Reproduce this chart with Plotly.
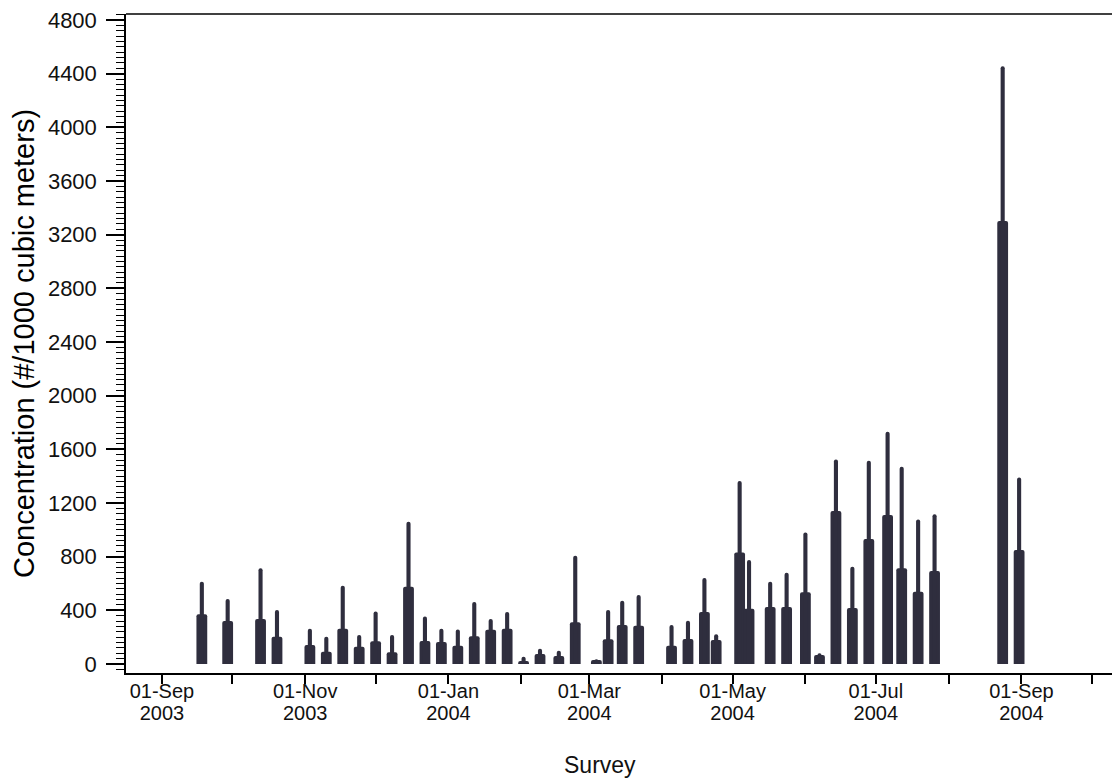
import plotly.graph_objects as go

# Survey dates (weekly plankton surveys)
survey_dates = [
    "2003-09-18", "2003-09-29", "2003-10-13", "2003-10-20", "2003-11-03",
    "2003-11-10", "2003-11-17", "2003-11-24", "2003-12-01", "2003-12-08",
    "2003-12-15", "2003-12-22", "2003-12-29", "2004-01-05", "2004-01-12",
    "2004-01-19", "2004-01-26", "2004-02-02", "2004-02-09", "2004-02-17",
    "2004-02-24", "2004-03-04", "2004-03-09", "2004-03-15", "2004-03-22",
    "2004-04-05", "2004-04-12", "2004-04-19", "2004-04-24", "2004-05-04",
    "2004-05-08", "2004-05-17", "2004-05-24", "2004-06-01", "2004-06-07",
    "2004-06-14", "2004-06-21", "2004-06-28", "2004-07-06", "2004-07-12",
    "2004-07-19", "2004-07-26", "2004-08-24", "2004-08-31",
]

# Mean concentration (#/1000 m^3) - thick bar
mean_conc = [
    370, 320, 335, 204, 142,
    92, 263, 129, 170, 87,
    576, 171, 164, 137, 206,
    256, 263, 22, 75, 60,
    311, 30, 184, 290, 286,
    137, 186, 387, 179, 831,
    412, 425, 425, 534, 67,
    1140, 417, 932, 1110, 713,
    539, 693, 3303, 850,
]

# Upper value (mean + error) - thin line
upper_conc = [
    613, 484, 713, 402, 263,
    204, 584, 216, 391, 216,
    1060, 355, 263, 258, 462,
    335, 388, 55, 114, 99,
    807, 35, 402, 472, 514,
    291, 323, 641, 221, 1364,
    775, 614, 681, 981, 80,
    1525, 725, 1515, 1731, 1470,
    1078, 1116, 4455, 1390,
]

month_ticks = [
    "2003-09-01", "2003-10-01", "2003-11-01", "2003-12-01", "2004-01-01",
    "2004-02-01", "2004-03-01", "2004-04-01", "2004-05-01", "2004-06-01",
    "2004-07-01", "2004-08-01", "2004-09-01", "2004-10-01",
]
month_labels = [
    "01-Sep", "", "01-Nov", "", "01-Jan", "", "01-Mar", "",
    "01-May", "", "01-Jul", "", "01-Sep", "",
]
year_labels = [
    "2003", "", "2003", "", "2004", "", "2004", "",
    "2004", "", "2004", "", "2004", "",
]

DAY_MS = 86400000
BAR_COLOR = "#2f2e3e"
FONT = "Arial, Liberation Sans, sans-serif"
X_RANGE = ["2003-08-16 17:00", "2004-10-12 23:00"]

fig = go.Figure()
fig.add_trace(go.Bar(
    x=survey_dates, y=mean_conc, width=4.6 * DAY_MS,
    marker=dict(color=BAR_COLOR, line=dict(width=0), cornerradius=2),
    showlegend=False, hoverinfo="x+y",
))
fig.add_trace(go.Bar(
    x=survey_dates, y=upper_conc, width=1.75 * DAY_MS, xaxis="x2",
    marker=dict(color=BAR_COLOR, line=dict(width=0), cornerradius=2),
    showlegend=False, hoverinfo="x+y",
))

fig.update_layout(
    width=1112, height=772,
    barmode="overlay",
    paper_bgcolor="white", plot_bgcolor="white",
    margin=dict(l=118, r=0, t=6, b=107),
    font=dict(family=FONT, color="black"),
    xaxis=dict(
        type="date", range=X_RANGE,
        tickmode="array", tickvals=month_ticks, ticktext=month_labels,
        ticks="outside", ticklen=9, tickwidth=1.5, tickcolor="black",
        ticklabelstandoff=-10,
        showline=True, linecolor="black", linewidth=1.5,
        showgrid=False, zeroline=False,
        tickfont=dict(size=20, family=FONT, color="#111"),
    ),
    xaxis2=dict(
        type="date", range=X_RANGE, overlaying="x", anchor="y", side="bottom",
        tickmode="array", tickvals=month_ticks, ticktext=year_labels,
        ticks="", showline=False, showgrid=False, zeroline=False,
        ticklabelstandoff=26,
        tickfont=dict(size=20, family=FONT, color="#111"),
    ),
    yaxis=dict(
        range=[-67, 4845],
        tickmode="linear", tick0=0, dtick=400,
        ticks="outside", ticklen=18, tickwidth=1.5, tickcolor="black",
        ticklabelstandoff=5, ticklabeloverflow="allow",
        minor=dict(dtick=40, ticks="outside", ticklen=8, tickwidth=1, tickcolor="black"),
        showline=True, linecolor="black", linewidth=1.5,
        showgrid=False, zeroline=False,
        tickfont=dict(size=22, family=FONT, color="#111"),
        title=dict(text="Concentration (#/1000 cubic meters)",
                   font=dict(size=29, family=FONT), standoff=7),
    ),
    shapes=[dict(type="line", xref="paper", yref="paper", x0=0, x1=1, y0=1, y1=1,
                 line=dict(color="black", width=1.5))],
    annotations=[dict(text="Survey", xref="paper", yref="paper", x=0.477, y=-0.1396,
                      xanchor="center", yanchor="middle", showarrow=False,
                      font=dict(size=23, family=FONT, color="#111"))],
)

fig.write_html("out.html")
